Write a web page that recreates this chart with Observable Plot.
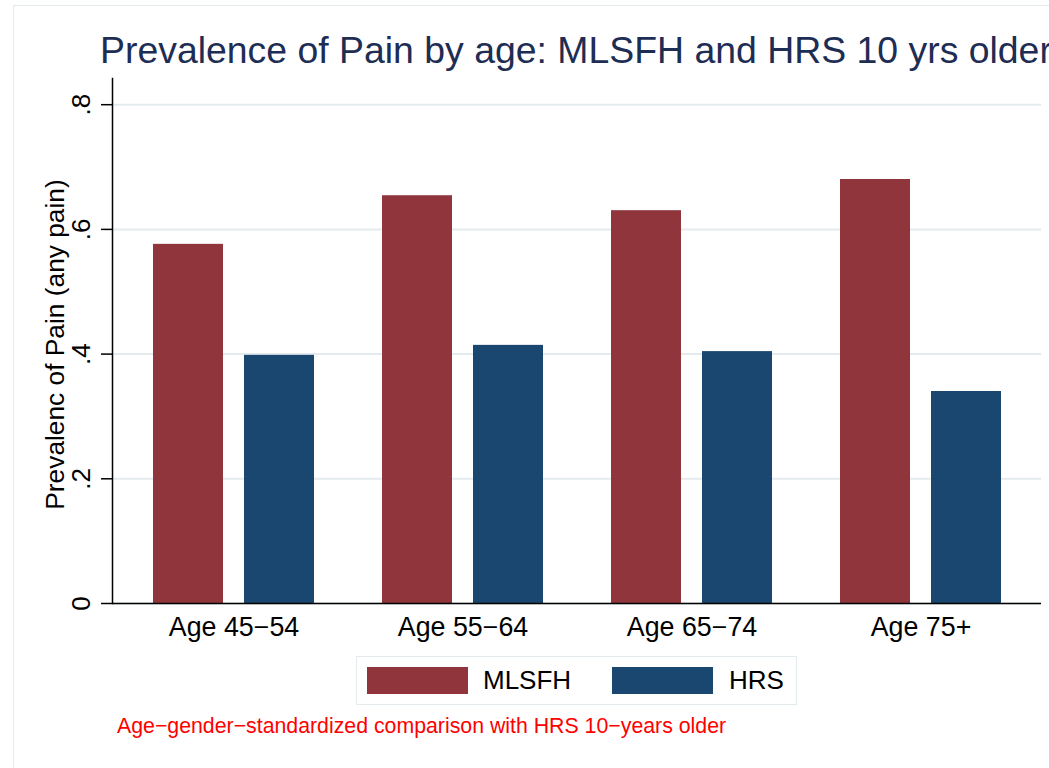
<!DOCTYPE html>
<html>
<head>
<meta charset="utf-8">
<script src="https://cdn.jsdelivr.net/npm/d3@7"></script>
<script src="https://cdn.jsdelivr.net/npm/@observablehq/plot@0.6"></script>
<style>
  html, body { margin: 0; padding: 0; background: #fff; }
  #page { position: relative; width: 1049px; height: 768px; overflow: hidden; background: #fff;
          font-family: "Liberation Sans", Arial, Helvetica, sans-serif; }
  #border { position: absolute; left: 13px; top: 5px; width: 1200px; height: 900px;
            border: 1.5px solid #e3ebee; box-sizing: border-box; }
  #title { position: absolute; left: 100px; top: 32px; font-size: 37.4px; line-height: 1;
           color: #1e2d54; white-space: nowrap; }
  #chart { position: absolute; left: 0; top: 70px; }
  #legend { position: absolute; left: 356px; top: 656px; width: 441px; height: 49px;
            border: 1.5px solid #e3ebee; box-sizing: border-box; background: #fff; }
  .sw { position: absolute; top: 10px; width: 101px; height: 27px; }
  .lb { position: absolute; top: 10px; font-size: 26px; line-height: 27px; color: #000; white-space: nowrap; }
  #caption { position: absolute; left: 117px; top: 716px; font-size: 21.3px; line-height: 1;
             color: #ff0000; white-space: nowrap; }
</style>
</head>
<body>
<div id="page">
  <div id="border"></div>
  <div id="title"></div>
  <div id="chart"></div>
  <div id="legend"></div>
  <div id="caption"></div>
</div>
<script>
// ---- data ----
const ageGroups = ["Age 45\u221254", "Age 55\u221264", "Age 65\u221274", "Age 75+"];
const seriesNames = ["MLSFH", "HRS"];
const seriesColors = ["#90353b", "#1a476f"];
const mlsfhValues = [0.576, 0.654, 0.630, 0.680];
const hrsValues = [0.398, 0.414, 0.404, 0.340];
const yTicks = [0, 0.2, 0.4, 0.6, 0.8];
const titleText = "Prevalence of Pain by age: MLSFH and HRS 10 yrs older";
const yLabel = "Prevalenc of Pain (any pain)";
const captionText = "Age\u2212gender\u2212standardized comparison with HRS 10\u2212years older";

const mlsfh = ageGroups.map((g, i) => ({group: g, series: seriesNames[0], value: mlsfhValues[i]}));
const hrs = ageGroups.map((g, i) => ({group: g, series: seriesNames[1], value: hrsValues[i]}));

const fmt = d => d === 0 ? "0" : String(d).replace(/^0/, "");

document.getElementById("title").textContent = titleText;
document.getElementById("caption").textContent = captionText;

const chart = Plot.plot({
  width: 1049,
  height: 580,
  marginLeft: 112,
  marginRight: 8,
  marginTop: 8,
  marginBottom: 47,
  style: {fontFamily: '"Liberation Sans", Arial, Helvetica, sans-serif', background: "transparent", overflow: "visible", color: "#000"},
  x: {domain: ageGroups, paddingInner: 0.2985, paddingOuter: 0.173, label: null},
  y: {domain: [0, 0.842], label: null},
  color: {domain: seriesNames, range: seriesColors},
  marks: [
    Plot.gridY(yTicks, {stroke: "#e3ebee", strokeOpacity: 1, strokeWidth: 2}),
    Plot.barY(mlsfh, {x: "group", y: "value", fill: "series", insetRight: 91}),
    Plot.barY(hrs, {x: "group", y: "value", fill: "series", insetLeft: 91}),
    Plot.ruleY([0], {stroke: "#000", strokeWidth: 1.5}),
    Plot.frame({anchor: "left", stroke: "#000", strokeWidth: 1.5}),
    Plot.axisY({ticks: yTicks, tickSize: 11, tickFormat: () => "", label: null, stroke: "#000", strokeWidth: 1.5}),
    Plot.text(yTicks, {y: d => d, text: fmt, frameAnchor: "left", dx: -23, rotate: -90,
                       textAnchor: "middle", lineAnchor: "bottom", fontSize: 26, fill: "#000"}),
    Plot.text([yLabel], {text: d => d, frameAnchor: "left", dx: -49, dy: 3.5, rotate: -90,
                         textAnchor: "middle", lineAnchor: "bottom", fontSize: 26.3, fill: "#000"}),
    Plot.axisX({tickSize: 0, tickPadding: 13, fontSize: 26.8, label: null, fill: "#000"})
  ]
});
document.getElementById("chart").appendChild(chart);

// legend built from the series arrays
const legend = document.getElementById("legend");
const swLeft = [10, 255];
const lbLeft = [126, 372];
seriesNames.forEach((name, i) => {
  const sw = document.createElement("div");
  sw.className = "sw";
  sw.style.left = swLeft[i] + "px";
  sw.style.background = seriesColors[i];
  legend.appendChild(sw);
  const lb = document.createElement("div");
  lb.className = "lb";
  lb.style.left = lbLeft[i] + "px";
  lb.textContent = name;
  legend.appendChild(lb);
});
</script>
</body>
</html>
